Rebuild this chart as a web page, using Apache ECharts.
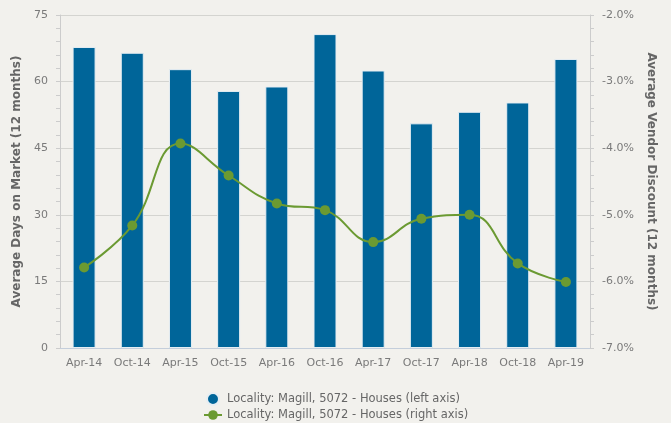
<!DOCTYPE html>
<html>
<head>
<meta charset="utf-8">
<script src="https://cdn.jsdelivr.net/npm/echarts@6/dist/echarts.min.js"></script>
<style>
  html, body { margin: 0; padding: 0; background: #f2f1ed; }
  #chart { width: 671px; height: 423px; }
</style>
</head>
<body>
<div id="chart"></div>
<script>
const categories = ['Apr-14', 'Oct-14', 'Apr-15', 'Oct-15', 'Apr-16', 'Oct-16', 'Apr-17', 'Oct-17', 'Apr-18', 'Oct-18', 'Apr-19']
const daysOnMarket = [67.8, 66.5, 62.8, 57.9, 58.9, 70.7, 62.5, 50.6, 53.2, 55.3, 65.1]
const vendorDiscount = [-5.79, -5.16, -3.93, -4.41, -4.83, -4.93, -5.41, -5.06, -5.00, -5.73, -6.01]
const seriesName = 'Locality: Magill, 5072 - Houses'

const chart = echarts.init(document.getElementById('chart'))
const font = 'DejaVu Sans'

chart.setOption({
  backgroundColor: '#f2f1ed',
  animation: false,
  textStyle: { fontFamily: font },
  grid: { left: 60, right: 81, top: 15, bottom: 75 },
  legend: {
    orient: 'vertical',
    left: 203,
    top: 392,
    height: 40,
    padding: 0,
    itemGap: 3,
    itemWidth: 18,
    itemHeight: 12,
    textStyle: { color: '#666', fontSize: 11.5, fontFamily: font },
    data: [
      { name: seriesName + ' (left axis)', icon: 'circle' },
      { name: seriesName + ' (right axis)' }
    ]
  },
  xAxis: {
    type: 'category',
    data: categories,
    axisLine: { lineStyle: { color: '#c4cedb' } },
    axisTick: { alignWithLabel: true, length: 6, lineStyle: { color: '#c4d4ea' } },
    axisLabel: { color: '#7a7a7a', fontSize: 11, margin: 10 }
  },
  yAxis: [
    {
      type: 'value',
      min: 0, max: 75, interval: 15,
      name: 'Average Days on Market (12 months)',
      nameLocation: 'middle',
      nameGap: 36,
      nameTextStyle: { color: '#666', fontWeight: 'bold', fontSize: 12 },
      axisLine: { show: true, lineStyle: { color: '#ccc' } },
      axisTick: { show: true, length: 4, lineStyle: { color: '#ccc' } },
      minorTick: { show: true, splitNumber: 5, length: 4, lineStyle: { color: '#ccc' } },
      axisLabel: { color: '#7a7a7a', fontSize: 11, margin: 12 },
      splitLine: { lineStyle: { color: '#d4d4d0' } }
    },
    {
      type: 'value',
      min: -7, max: -2, interval: 1,
      name: 'Average Vendor Discount (12 months)',
      nameLocation: 'middle',
      nameGap: 53,
      nameRotate: -90,
      nameTextStyle: { color: '#666', fontWeight: 'bold', fontSize: 12 },
      axisLine: { show: true, lineStyle: { color: '#ccc' } },
      axisTick: { show: true, length: 4, lineStyle: { color: '#ccc' } },
      minorTick: { show: true, splitNumber: 5, length: 4, lineStyle: { color: '#ccc' } },
      axisLabel: { color: '#7a7a7a', fontSize: 11, margin: 12, formatter: v => v.toFixed(1) + '%' },
      splitLine: { show: false }
    }
  ],
  series: [
    {
      name: seriesName + ' (left axis)',
      type: 'bar',
      data: daysOnMarket,
      barWidth: 23,
      itemStyle: { color: '#006599', borderColor: '#e6eef3', borderWidth: 1 }
    },
    {
      name: seriesName + ' (right axis)',
      type: 'line',
      yAxisIndex: 1,
      data: vendorDiscount,
      smooth: 0.45,
      symbol: 'circle',
      symbolSize: 10,
      lineStyle: { color: '#6b9a32', width: 2 },
      itemStyle: { color: '#6b9a32' }
    }
  ]
})
</script>
</body>
</html>
